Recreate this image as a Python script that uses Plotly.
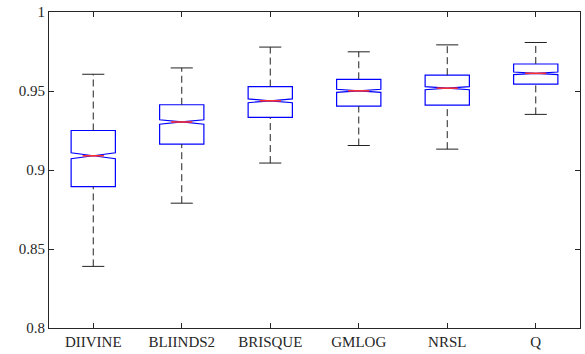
import plotly.graph_objects as go

categories = ["DIIVINE", "BLIINDS2", "BRISQUE", "GMLOG", "NRSL", "Q"]
whisker_low = [0.839, 0.879, 0.9044, 0.9155, 0.9132, 0.9352]
q1_vals = [0.8895, 0.9164, 0.9333, 0.9404, 0.9411, 0.9543]
median_vals = [0.909, 0.9304, 0.9438, 0.9501, 0.9518, 0.9612]
q3_vals = [0.925, 0.9413, 0.9528, 0.9574, 0.960, 0.9671]
whisker_high = [0.9606, 0.9646, 0.9778, 0.9748, 0.9792, 0.9807]
notch_half = [0.0019, 0.0014, 0.0012, 0.001, 0.001, 0.0008]
y_ticks = [0.8, 0.85, 0.9, 0.95, 1.0]
y_tick_text = ["0.8", "0.85", "0.9", "0.95", "1"]

pos = list(range(1, len(categories) + 1))
box_w = 0.5
cap_half = 0.125
med_half = 0.12

FONT = "Liberation Serif"

fig = go.Figure()

# dashed whiskers
wx, wy = [], []
for p, lo, a, b, hi in zip(pos, whisker_low, q1_vals, q3_vals, whisker_high):
    wx += [p, p, None, p, p, None]
    wy += [b, hi, None, lo, a, None]
fig.add_trace(go.Scatter(x=wx, y=wy, mode="lines",
                         line=dict(color="#222222", width=1, dash="7px,4px"),
                         hoverinfo="skip", showlegend=False))

# caps
cx, cy = [], []
for p, lo, hi in zip(pos, whisker_low, whisker_high):
    cx += [p - cap_half, p + cap_half, None, p - cap_half, p + cap_half, None]
    cy += [hi, hi, None, lo, lo, None]
fig.add_trace(go.Scatter(x=cx, y=cy, mode="lines",
                         line=dict(color="#222222", width=1),
                         hoverinfo="skip", showlegend=False))

# notched boxes
fig.add_trace(go.Box(x=pos, q1=q1_vals, median=median_vals, q3=q3_vals,
                     lowerfence=q1_vals, upperfence=q3_vals,
                     notchspan=notch_half, notched=True, notchwidth=0.5,
                     width=box_w, whiskerwidth=0, boxpoints=False,
                     line=dict(color="#0000ff", width=1.2),
                     fillcolor="rgba(0,0,0,0)", showlegend=False))

# red medians
mx, my = [], []
for p, m in zip(pos, median_vals):
    mx += [p - med_half, p + med_half, None]
    my += [m, m, None]
fig.add_trace(go.Scatter(x=mx, y=my, mode="lines",
                         line=dict(color="#ff3030", width=1.6),
                         hoverinfo="skip", showlegend=False))

axis_common = dict(showline=True, linecolor="#262626", linewidth=1,
                   mirror="ticks", ticks="inside", ticklen=5,
                   tickcolor="#262626", showgrid=False, zeroline=False,
                   tickfont=dict(family=FONT, size=15, color="#262626"))

fig.update_xaxes(range=[0.5, 6.5], tickvals=pos, ticktext=categories, **axis_common)
fig.update_yaxes(range=[0.8, 1.0], tickvals=y_ticks, ticktext=y_tick_text, **axis_common)

fig.update_layout(width=585, height=354,
                  margin=dict(l=49, r=4, t=10, b=26),
                  font=dict(family=FONT, size=15, color="#262626"),
                  paper_bgcolor="white", plot_bgcolor="white",
                  showlegend=False)

fig.write_html("out.html", config={"displayModeBar": False},
               post_script="document.body.style.margin='0';document.body.style.overflow='hidden';")
